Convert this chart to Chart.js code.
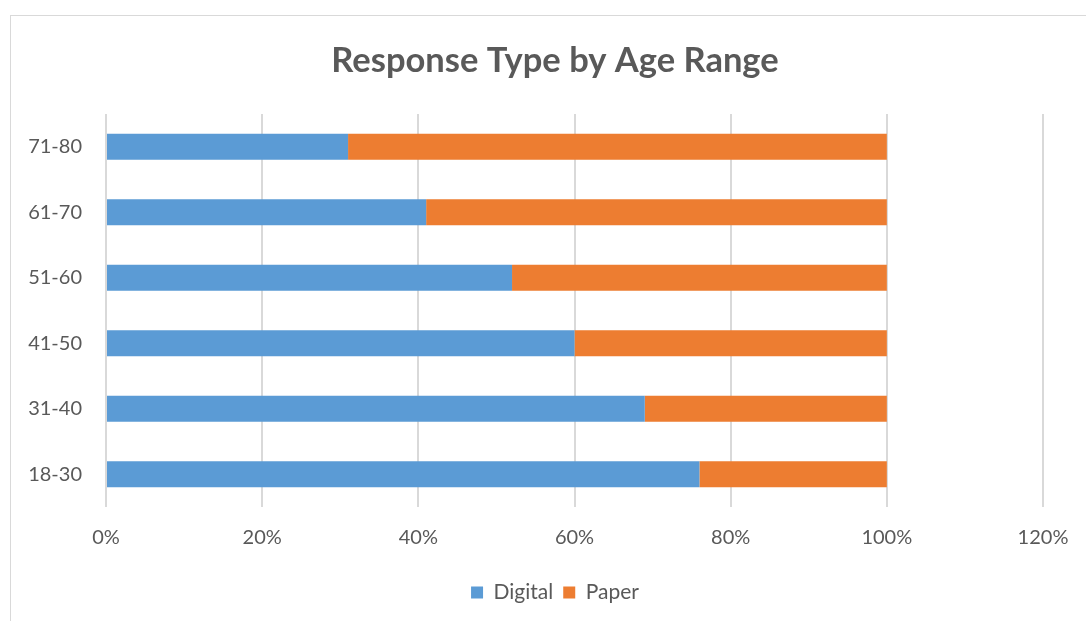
<!DOCTYPE html>
<html>
<head>
<meta charset="utf-8">
<script src="https://cdn.jsdelivr.net/npm/chart.js@4"></script>
<style>
    html, body { margin: 0; padding: 0; background: #fff; overflow: hidden; }
    #frame {
        position: absolute; left: 10px; top: 15px;
        width: 1100px; height: 700px;
        border: 1px solid #D9D9D9; box-sizing: border-box;
    }
    #wrap { position: absolute; left: 0; top: 0; width: 1110px; height: 621px; }
</style>
</head>
<body>
<div id="frame"></div>
<div id="wrap"><canvas id="responseChart" width="1110" height="621"></canvas></div>
<script>
// Age ranges, listed top to bottom as drawn
const ageRanges = ['71-80', '61-70', '51-60', '41-50', '31-40', '18-30'];
// Share of responses (%)
const digitalShare = [31, 41, 52, 60, 69, 76];
const paperShare = [69, 59, 48, 40, 31, 24];
const xTicks = [0, 20, 40, 60, 80, 100, 120];

const textColor = '#595959';
const gridColor = '#D9D9D9';

document.addEventListener('DOMContentLoaded', function() {
    const ctx = document.getElementById('responseChart').getContext('2d');

    new Chart(ctx, {
        type: 'bar',
        data: {
            labels: ageRanges,
            datasets: [
                {
                    label: 'Digital',
                    data: digitalShare,
                    backgroundColor: '#5B9BD5',
                    borderWidth: 0,
                    barPercentage: 0.4,
                    categoryPercentage: 1.0
                },
                {
                    label: 'Paper',
                    data: paperShare,
                    backgroundColor: '#ED7D31',
                    borderWidth: 0,
                    barPercentage: 0.4,
                    categoryPercentage: 1.0
                }
            ]
        },
        options: {
            indexAxis: 'y',
            responsive: false,
            animation: false,
            layout: {
                padding: { left: 0, right: 0, top: 20, bottom: 8 }
            },
            scales: {
                x: {
                    stacked: true,
                    min: 0,
                    max: 120,
                    afterBuildTicks: function(scale) {
                        scale.ticks = xTicks.map(v => ({ value: v }));
                    },
                    afterFit: function(scale) {
                        scale.height = 65;
                    },
                    grid: {
                        color: gridColor,
                        lineWidth: 2,
                        drawTicks: false
                    },
                    border: { display: false },
                    ticks: {
                        color: textColor,
                        padding: 19,
                        font: { family: 'Lato', size: 20 },
                        callback: function(value) {
                            return value + '%';
                        }
                    }
                },
                y: {
                    stacked: true,
                    afterFit: function(scale) {
                        scale.width = 106;
                    },
                    grid: { display: false, drawTicks: false },
                    border: { display: false },
                    ticks: {
                        color: textColor,
                        padding: 24,
                        font: { family: 'Lato', size: 20 }
                    }
                },
                // empty spacer on the right so the plot ends at the 120% line
                ySpacer: {
                    axis: 'y',
                    type: 'category',
                    position: 'right',
                    afterFit: function(scale) {
                        scale.width = 67;
                    },
                    grid: { display: false, drawTicks: false },
                    border: { display: false },
                    ticks: { display: false }
                }
            },
            plugins: {
                title: {
                    display: true,
                    text: 'Response Type by Age Range',
                    color: textColor,
                    font: { family: 'Lato', size: 34.5, weight: 'bold' },
                    padding: { top: 20, bottom: 32.6 }
                },
                legend: {
                    position: 'bottom',
                    labels: {
                        color: textColor,
                        boxWidth: 12,
                        boxHeight: 12,
                        padding: 10,
                        font: { family: 'Lato', size: 21 }
                    }
                },
                tooltip: { enabled: false }
            }
        }
    });
});
</script>
</body>
</html>
